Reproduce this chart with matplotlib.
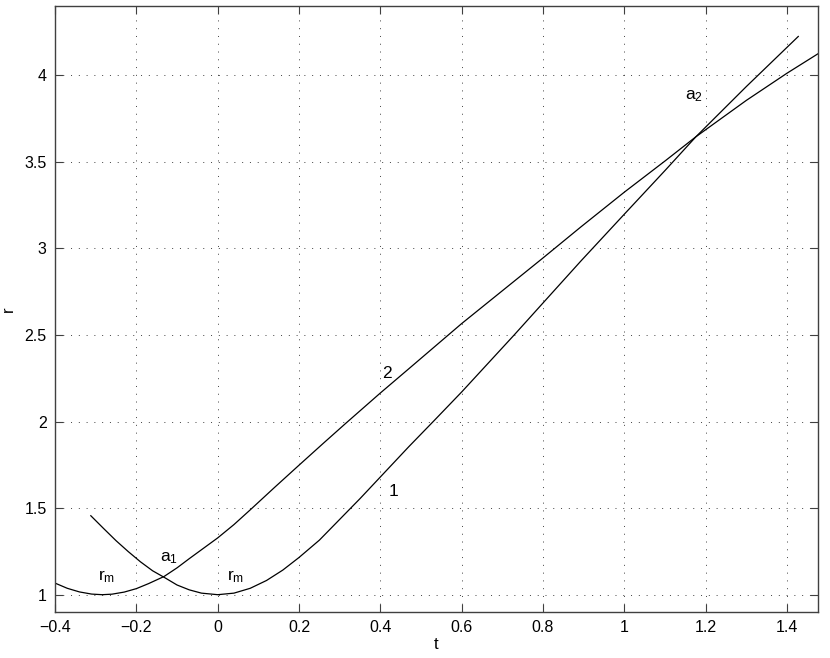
import matplotlib
matplotlib.use("Agg")
import matplotlib.pyplot as plt

plt.rcParams['font.family'] = ['Liberation Sans', 'DejaVu Sans']
plt.rcParams['mathtext.fontset'] = 'custom'
plt.rcParams['mathtext.rm'] = 'Liberation Sans'

# curve 1 (minimum at t = 0)
t1 = [-0.312, -0.28, -0.25, -0.22, -0.19, -0.16, -0.13, -0.10, -0.07, -0.04,
      0.0, 0.04, 0.08, 0.12, 0.16, 0.20, 0.25, 0.30, 0.35, 0.40,
      0.47, 0.532, 0.60, 0.729, 0.80, 0.893, 1.00, 1.10, 1.176, 1.30, 1.4276]
r1 = [1.456, 1.381, 1.312, 1.249, 1.19, 1.138, 1.098, 1.056, 1.028, 1.009,
      1.0, 1.009, 1.037, 1.082, 1.142, 1.215, 1.315, 1.435, 1.555, 1.68,
      1.855, 2.005, 2.171, 2.50, 2.685, 2.927, 3.198, 3.45, 3.645, 3.935, 4.224]

# curve 2 (minimum at t ~ -0.28)
t2 = [-0.40, -0.37, -0.34, -0.31, -0.284, -0.26, -0.23, -0.20, -0.17, -0.132,
      -0.10, -0.07, -0.035, 0.0, 0.04, 0.08, 0.14, 0.20, 0.26, 0.315,
      0.40, 0.47, 0.60, 0.80, 0.893, 1.00, 1.10, 1.176, 1.30, 1.40, 1.476]
r2 = [1.067, 1.037, 1.016, 1.0035, 1.0, 1.003, 1.015, 1.035, 1.064, 1.105,
      1.155, 1.208, 1.268, 1.328, 1.405, 1.49, 1.62, 1.748, 1.875, 1.99,
      2.165, 2.305, 2.566, 2.945, 3.124, 3.325, 3.505, 3.645, 3.855, 4.012, 4.124]

labels = [r'$\mathregular{r_m}$', r'$\mathregular{r_m}$', r'$\mathregular{a_1}$',
          r'$\mathregular{a_2}$', '2', '1']
label_t = [-0.295, 0.022, -0.143, 1.15, 0.405, 0.42]
label_r = [1.085, 1.085, 1.19, 3.86, 2.25, 1.57]

fig = plt.figure(figsize=(8.3, 6.58), dpi=100)
ax = fig.add_axes([0.0663, 0.0699, 0.9192, 0.921])

ax.plot(t1, r1, color='black', linewidth=0.9)
ax.plot(t2, r2, color='black', linewidth=0.9)

for s, x, y in zip(labels, label_t, label_r):
    ax.text(x, y, s, fontsize=12.5, ha='left', va='baseline')

ax.set_xlim(-0.4, 1.476)
ax.set_ylim(0.9, 4.4)
ax.set_xticks([-0.4, -0.2, 0, 0.2, 0.4, 0.6, 0.8, 1, 1.2, 1.4])
ax.set_xticklabels(['\u22120.4', '\u22120.2', '0', '0.2', '0.4', '0.6', '0.8', '1', '1.2', '1.4'])
ax.set_yticks([1, 1.5, 2, 2.5, 3, 3.5, 4])
ax.set_yticklabels(['1', '1.5', '2', '2.5', '3', '3.5', '4'])
ax.grid(True, linestyle=(0, (1, 7)), color='black', linewidth=0.7, alpha=0.75)
ax.tick_params(direction='in', length=6, top=True, right=True, labelsize=11.5,
               color='#404040', pad=6)
for sp in ax.spines.values():
    sp.set_color('#404040')
    sp.set_linewidth(1.0)

ax.set_xlabel('t', fontsize=12, labelpad=1)
ax.set_ylabel('r', fontsize=12, labelpad=6)

fig.savefig('out.png', dpi=100)
